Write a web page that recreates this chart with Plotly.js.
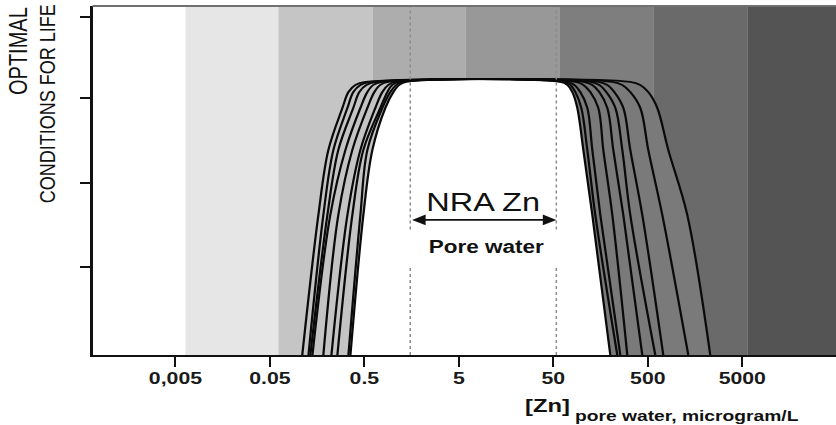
<!DOCTYPE html>
<html><head><meta charset="utf-8">
<script src="https://cdn.plot.ly/plotly-3.0.1.min.js"></script>
<style>
html,body{margin:0;padding:0;background:#fff;overflow:hidden;}
#wrap{width:836px;height:425px;overflow:hidden;}
#chart{width:669px;height:425px;transform:scaleX(1.25);transform-origin:0 0;}
</style></head><body><div id="wrap"><div id="chart"></div></div>
<script>
// ---- data (x in microgram/L, log axis) ----
const tickVals = [0.005, 0.05, 0.5, 5, 50, 500, 5000];
const tickText = ['0,005', '0.05', '0.5', '5', '50', '500', '5000'];
const bandEdges = [0.0006, 0.00638, 0.0615, 0.608, 5.86, 57.8, 571, 5650, 60000];
const bandColors = ['#ffffff', '#e6e6e6', '#c5c5c5', '#adadad', '#989898', '#7e7e7e', '#6a6a6a', '#545454'];
const riseLevels = [0, 0.513, 0.751, 0.905, 0.963, 0.989, 1];
const fallLevels = [1, 0.989, 0.963, 0.905, 0.751, 0.513, 0];
const riseX = [
  [0.110, 0.163, 0.208, 0.293, 0.339, 0.401, 0.512],
  [0.128, 0.184, 0.235, 0.331, 0.382, 0.454, 0.579],
  [0.134, 0.203, 0.265, 0.382, 0.442, 0.525, 0.670],
  [0.141, 0.218, 0.315, 0.454, 0.538, 0.622, 0.775],
  [0.184, 0.265, 0.373, 0.538, 0.638, 0.738, 0.897],
  [0.224, 0.331, 0.454, 0.654, 0.775, 0.897, 1.064],
  [0.259, 0.373, 0.488, 0.738, 0.876, 0.989, 1.173],
  [0.339, 0.454, 0.538, 0.775, 0.942, 1.091, 1.262],
  [0.356, 0.488, 0.608, 0.834, 1.014, 1.173, 1.391]
];
const fallX = [
  [59.3, 70.3, 79.4, 89.7, 103.9, 129.3, 200.6],
  [63.8, 75.7, 85.5, 98.9, 114.5, 139.1, 237.8],
  [70.3, 83.4, 96.5, 114.5, 129.3, 157.2, 255.9],
  [85.5, 103.9, 123.2, 149.7, 169.1, 210.6, 303.5],
  [103.9, 129.3, 153.4, 186.4, 215.7, 275.3, 437.3],
  [123.2, 153.4, 181.9, 226.6, 268.7, 326.4, 600.2],
  [149.7, 186.4, 221.1, 275.3, 326.4, 437.3, 729.6],
  [210.6, 268.7, 326.4, 416.4, 506, 712, 1342],
  [326.4, 416.4, 506, 630, 824, 1309, 2292]
];
const nraLow = 1.53, nraHigh = 53.8;
const dottedGap = [0.33, 0.46];
const arrowY = 0.4945;
const yTicks = [0.322, 0.630, 0.941, 1.238];
const yTop = 1.278;

const FONT = 'Liberation Sans, Arial, sans-serif';
const traces = [];
// background bands
for (let i = 0; i < bandColors.length; i++) {
  const a = bandEdges[i], b = bandEdges[i + 1];
  traces.push({x: [a, a, b, b], y: [-0.2, yTop + 0.2, yTop + 0.2, -0.2], mode: 'lines', fill: 'toself',
    fillcolor: bandColors[i], line: {width: 0, color: bandColors[i]}, hoverinfo: 'skip', showlegend: false});
}
const rev = a => a.slice().reverse();
const last = riseX.length - 1;
// left filled zone between the outer and inner rising curves (bottom edge closes straight)
traces.push({x: riseX[0].concat(rev(riseX[last])), y: riseLevels.concat(rev(riseLevels)), mode: 'lines',
  fill: 'toself', fillcolor: '#c4c4c4', line: {width: 0, shape: 'spline', color: '#c4c4c4'}, showlegend: false, hoverinfo: 'skip'});
// right filled zone: inner curve bottom->top, then outer curve top->bottom
traces.push({x: rev(fallX[0]).concat(fallX[last]), y: rev(fallLevels).concat(fallLevels), mode: 'lines',
  fill: 'toself', fillcolor: '#7a7a7a', line: {width: 0, shape: 'spline', color: '#7a7a7a'}, showlegend: false, hoverinfo: 'skip'});
// white optimal zone
traces.push({x: riseX[last].concat(fallX[0]), y: riseLevels.concat(fallLevels), mode: 'lines',
  fill: 'toself', fillcolor: '#ffffff', line: {width: 0, shape: 'spline', color: '#ffffff'}, showlegend: false, hoverinfo: 'skip'});
// curves
for (let i = 0; i < riseX.length; i++) {
  traces.push({x: riseX[i].concat(fallX[i]), y: riseLevels.concat(fallLevels), mode: 'lines',
    line: {color: '#0a0a0a', width: 1.8, shape: 'spline', smoothing: 1}, showlegend: false, hoverinfo: 'skip'});
}
// dotted NRA limits
[nraLow, nraHigh].forEach(v => {
  traces.push({x: [v, v, null, v, v], y: [0, dottedGap[0], null, dottedGap[1], yTop], mode: 'lines',
    line: {color: '#8c8c8c', width: 1.2, dash: 'dot'}, showlegend: false, hoverinfo: 'skip'});
});

const layout = {
  width: 669, height: 425,
  margin: {l: 74, r: 0, t: 6, b: 70},
  paper_bgcolor: '#ffffff', plot_bgcolor: '#ffffff',
  showlegend: false,
  xaxis: {type: 'log', range: [-3.179, 4.694], tickvals: tickVals, ticktext: tickText,
    ticks: 'outside', ticklen: 10, tickwidth: 1.6, tickcolor: '#111', ticklabelstandoff: -3,
    showline: true, linecolor: '#111', linewidth: 2, showgrid: false, zeroline: false,
    tickfont: {family: FONT, size: 17, weight: 700, color: '#1a1a1a'}},
  yaxis: {range: [0, yTop], tickvals: yTicks, showticklabels: false,
    ticks: 'outside', ticklen: 8, tickwidth: 2, tickcolor: '#111',
    showline: true, linecolor: '#111', linewidth: 1.8, showgrid: false, zeroline: false},
  shapes: [{type: 'line', xref: 'paper', yref: 'paper', x0: 0, x1: 1, y0: 1, y1: 1,
    line: {color: '#707070', width: 2}}],
  annotations: [
    {x: Math.log10(nraHigh), y: arrowY, ax: Math.log10(nraLow), ay: arrowY, xref: 'x', yref: 'y', axref: 'x', ayref: 'y',
      text: '', showarrow: true, arrowhead: 2, arrowside: 'end+start', arrowsize: 1.2, arrowwidth: 1.8,
      arrowcolor: '#111', standoff: 0, startstandoff: 0},
    {x: 0.958, y: 0.560, xref: 'x', yref: 'y', text: 'NRA Zn', showarrow: false, xanchor: 'center', yanchor: 'middle',
      font: {family: FONT, size: 26, color: '#111'}},
    {x: 0.990, y: 0.396, xref: 'x', yref: 'y', text: 'Pore water', showarrow: false, xanchor: 'center', yanchor: 'middle',
      font: {family: FONT, size: 18, weight: 700, color: '#111'}},
    {x: -0.1002, y: 1.004, xref: 'paper', yref: 'paper', text: 'OPTIMAL', textangle: -90, showarrow: false,
      xanchor: 'center', yanchor: 'top', font: {family: FONT, size: 20, color: '#111'}},
    {x: -0.0612, y: 1.011, xref: 'paper', yref: 'paper', text: 'CONDITIONS FOR LIFE', textangle: -90, showarrow: false,
      xanchor: 'center', yanchor: 'top', font: {family: FONT, size: 18, color: '#111'}},
    {x: 0.578, y: -0.146, xref: 'paper', yref: 'paper', text: '[Zn]', showarrow: false, xanchor: 'left', yanchor: 'middle',
      font: {family: FONT, size: 19, weight: 700, color: '#111'}},
    {x: 0.646, y: -0.173, xref: 'paper', yref: 'paper', text: 'pore water, microgram/L', showarrow: false,
      xanchor: 'left', yanchor: 'middle', font: {family: FONT, size: 15.4, weight: 700, color: '#111'}}
  ]
};
Plotly.newPlot('chart', traces, layout, {staticPlot: true, displayModeBar: false});
</script></body></html>
